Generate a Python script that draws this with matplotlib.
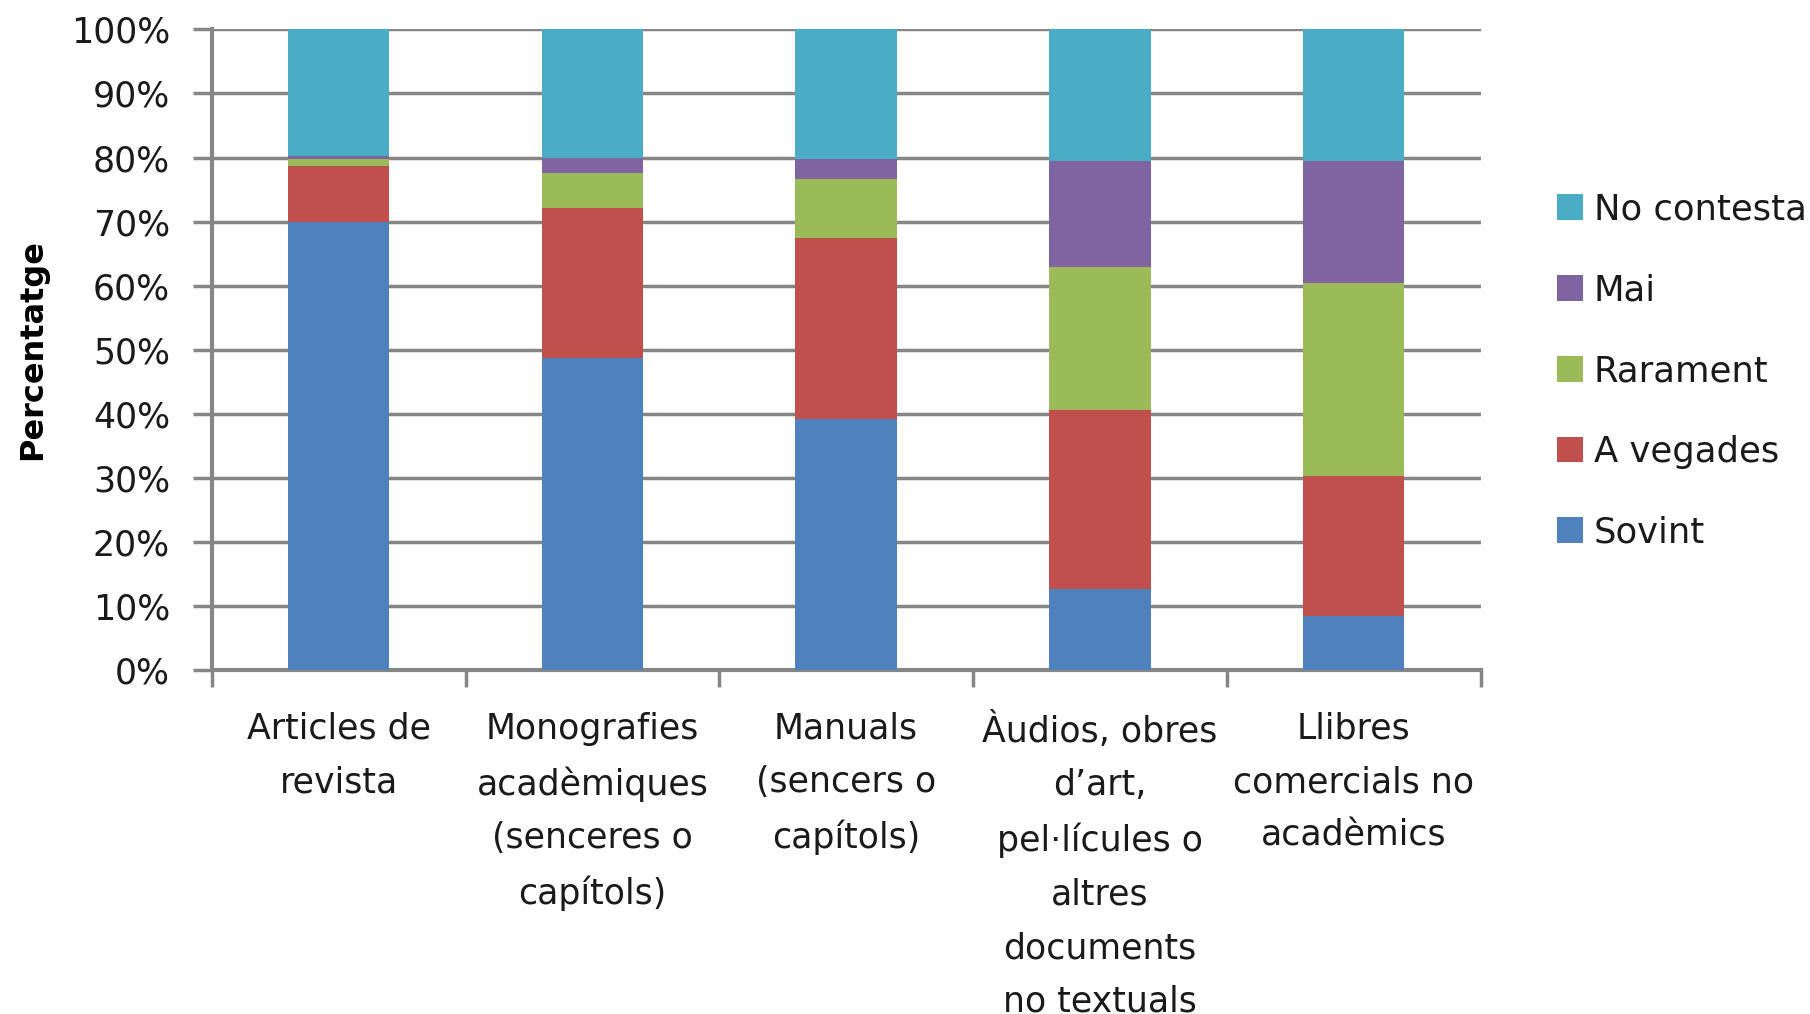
import matplotlib
matplotlib.use('Agg')
import matplotlib.pyplot as plt
import numpy as np

# categories and percentages
categories = ['Articles de\nrevista',
              'Monografies\nacadèmiques\n(senceres o\ncapítols)',
              'Manuals\n(sencers o\ncapítols)',
              'Àudios, obres\nd\u2019art,\npel·lícules o\naltres\ndocuments\nno textuals',
              'Llibres\ncomercials no\nacadèmics']
sovint = [70.0, 48.8, 39.2, 12.7, 8.4]
a_vegades = [8.7, 23.4, 28.2, 27.9, 21.9]
rarament = [1.0, 5.4, 9.3, 22.4, 30.2]
mai = [0.5, 2.3, 3.0, 16.5, 18.9]
no_contesta = [19.8, 20.1, 20.3, 20.5, 20.6]

series = [('Sovint', sovint, '#4F81BD'),
          ('A vegades', a_vegades, '#C0504D'),
          ('Rarament', rarament, '#9BBB59'),
          ('Mai', mai, '#8064A2'),
          ('No contesta', no_contesta, '#4BACC6')]

fig = plt.figure(figsize=(18.1, 10.14), dpi=100)
ax = fig.add_axes([0.117, 0.339, 0.701, 0.632])

x = np.arange(len(categories))
bottom = np.zeros(len(categories))
handles = []
for name, vals, col in series:
    b = ax.bar(x, vals, 0.4, bottom=bottom, color=col, label=name, zorder=3)
    bottom += np.array(vals)
    handles.append(b)

grid_col = '#868686'
txt_col = '#1a1a1a'
ax.set_ylim(0, 100)
ax.set_xlim(-0.5, 4.5)
ax.set_yticks(np.arange(0, 101, 10))
ax.set_yticklabels([f'{v}%' for v in range(0, 101, 10)])
ax.yaxis.grid(True, color=grid_col, linewidth=2.5, zorder=0)

# category boundaries as ticks, labels in between
ax.set_xticks(np.arange(-0.5, 5, 1))
ax.set_xticklabels([])
ax.set_xticks(x, minor=True)
ax.set_xticklabels(categories, minor=True, fontsize=25, color=txt_col,
                   linespacing=1.72, va='top')
ax.tick_params(axis='x', which='major', length=12, width=2.5, color=grid_col)
ax.tick_params(axis='x', which='minor', length=0, pad=30)
ax.tick_params(axis='y', length=14, width=2.5, color=grid_col, labelsize=25,
               labelcolor=txt_col, pad=16)

for s in ['top', 'right']:
    ax.spines[s].set_visible(False)
for s in ['left', 'bottom']:
    ax.spines[s].set_color(grid_col)
    ax.spines[s].set_linewidth(3)

ax.set_ylabel('Percentatge', fontsize=23, fontweight='bold')
ax.yaxis.set_label_coords(-0.129, 0.5)

fig.legend(handles[::-1], [s[0] for s in series][::-1],
           loc='center left', bbox_to_anchor=(0.8425, 0.634), frameon=False,
           fontsize=25.5, handlelength=0.75, handleheight=0.75,
           handletextpad=0.3, labelspacing=1.32, labelcolor=txt_col)

fig.savefig('out.png', dpi=100)
